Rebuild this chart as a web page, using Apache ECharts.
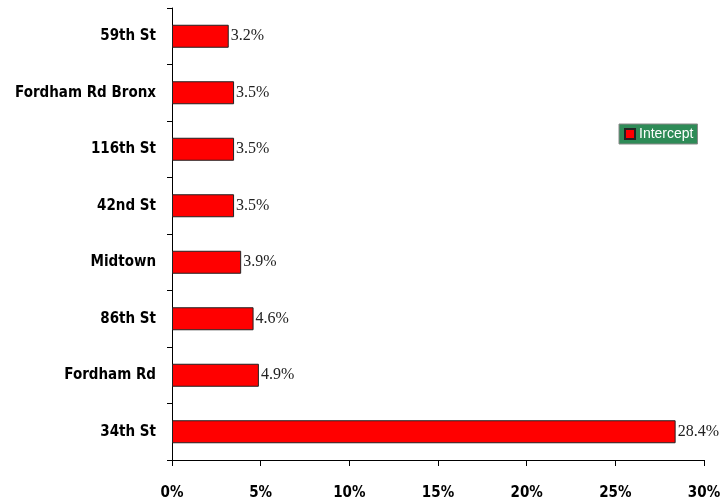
<!DOCTYPE html>
<html>
<head>
<meta charset="utf-8">
<script src="https://cdn.jsdelivr.net/npm/echarts@6/dist/echarts.min.js"></script>
<style>
  html, body { margin: 0; padding: 0; background: #fff; }
  #chart { width: 725px; height: 501px; }
</style>
</head>
<body>
<div id="chart"></div>
<script>
// Stations listed bottom-to-top (ECharts category axis starts at the bottom)
const stations = ['34th St', 'Fordham Rd', '86th St', 'Midtown', '42nd St', '116th St', 'Fordham Rd Bronx', '59th St'];
// Intercept share per station, in percent
const intercept = [28.4, 4.9, 4.6, 3.9, 3.5, 3.5, 3.5, 3.2];
const xTicks = [0, 5, 10, 15, 20, 25, 30];

const labelFont = '"DejaVu Sans Condensed", "DejaVu Sans", sans-serif';

const chart = echarts.init(document.getElementById('chart'));
chart.setOption({
  animation: false,
  grid: { left: 172, right: 21, top: 8, bottom: 41, containLabel: false },
  legend: {
    data: ['Intercept'],
    left: 619, top: 124,
    backgroundColor: '#2e8b57',
    borderColor: '#888',
    borderWidth: 1,
    padding: [3, 4, 3, 5],
    itemWidth: 10, itemHeight: 10,
    itemGap: 4,
    icon: 'rect',
    textStyle: { color: '#fff', fontFamily: '"Liberation Sans", Arial, sans-serif', fontSize: 14, padding: [0, 0, 0, -1] }
  },
  xAxis: {
    type: 'value',
    min: xTicks[0], max: xTicks[xTicks.length - 1], interval: 5,
    splitLine: { show: false },
    axisLine: { show: true, lineStyle: { color: '#000', width: 1 } },
    axisTick: { show: true, length: 6, lineStyle: { color: '#000' } },
    axisLabel: {
      formatter: v => v + '%',
      color: '#000', fontFamily: labelFont, fontWeight: 'bold', fontSize: 15,
      margin: 26
    }
  },
  yAxis: {
    type: 'category',
    data: stations,
    axisLine: { show: true, lineStyle: { color: '#000', width: 1 } },
    axisTick: { show: true, length: 5, lineStyle: { color: '#000' } },
    axisLabel: {
      color: '#000', fontFamily: labelFont, fontWeight: 'bold', fontSize: 15,
      margin: 16
    }
  },
  series: [{
    name: 'Intercept',
    type: 'bar',
    data: intercept,
    barWidth: 23,
    itemStyle: { color: '#ff0000', borderColor: '#222', borderWidth: 1 },
    label: {
      show: true, position: 'right', distance: 2,
      formatter: p => p.value.toFixed(1) + '%',
      color: '#222', fontFamily: '"Liberation Serif", "Times New Roman", serif', fontSize: 16
    }
  }]
});
</script>
</body>
</html>
